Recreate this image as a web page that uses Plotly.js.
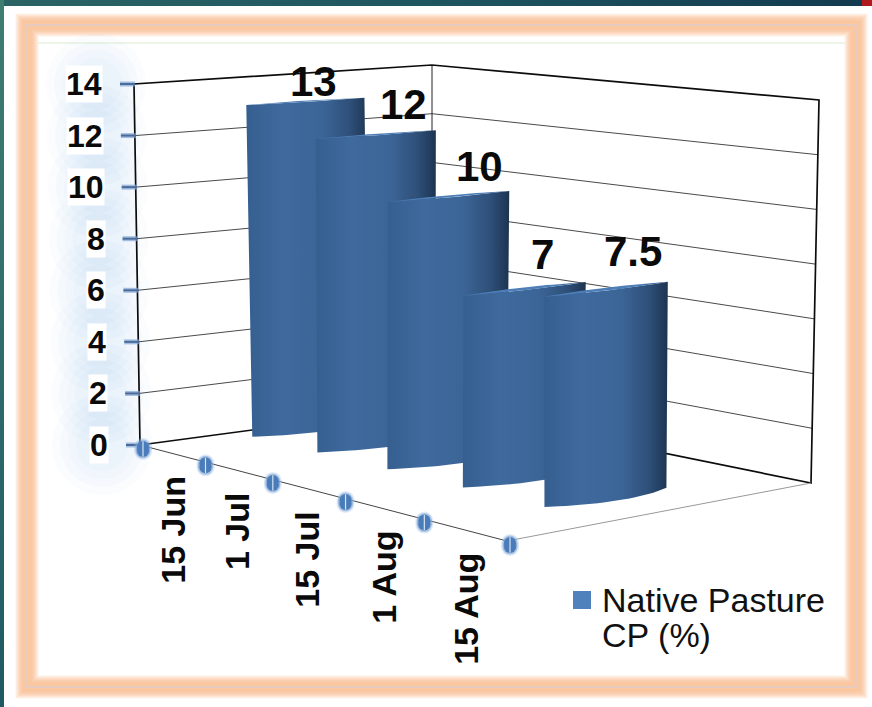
<!DOCTYPE html>
<html><head><meta charset="utf-8">
<script src="https://cdn.plot.ly/plotly-3.0.1.min.js"></script>
<style>html,body{margin:0;padding:0;background:#fff}#c{width:872px;height:707px}</style>
</head><body><div id="c"></div>
<script>
// ---- data ----
const categories = ['15 Jun','1 Jul','15 Jul','1 Aug','15 Aug'];
const cpValues = [13,12,10,7,7.5];
const yTicks = [0,2,4,6,8,10,12,14];
const legendLines = ['Native Pasture','CP (%)'];

// ---- pseudo-3D scale: (category position u, depth v, value h) -> page pixel ----
const H_MAX = 14, U_MAX = 5;
function homography(p00,p10,p11,p01){
  const dx1=p10[0]-p11[0],dx2=p01[0]-p11[0],sx=p00[0]-p10[0]+p11[0]-p01[0];
  const dy1=p10[1]-p11[1],dy2=p01[1]-p11[1],sy=p00[1]-p10[1]+p11[1]-p01[1];
  const den=dx1*dy2-dx2*dy1;
  const g=(sx*dy2-dx2*sy)/den,h=(dx1*sy-sx*dy1)/den;
  const a=p10[0]-p00[0]+g*p10[0],b=p01[0]-p00[0]+h*p01[0],c=p00[0];
  const d=p10[1]-p00[1]+g*p10[1],e=p01[1]-p00[1]+h*p01[1],f=p00[1];
  return (s,t)=>{const w=g*s+h*t+1;return [(a*s+b*t+c)/w,(d*s+e*t+f)/w];};
}
const floorMap = homography([140,445],[507,541],[811,483],[432,406]);
const topMap   = homography([134,84],[509,135],[819,100],[432,65]);
function P(u,v,val){
  const s=u/U_MAX,a=floorMap(s,v),b=topMap(s,v),k=val/H_MAX;
  return [a[0]+(b[0]-a[0])*k,a[1]+(b[1]-a[1])*k];
}
function poly(pts,extra){
  return Object.assign({x:pts.map(p=>p[0]),y:pts.map(p=>p[1]),type:'scatter',mode:'lines',showlegend:false,hoverinfo:'skip'},extra);
}
function seg(pts,color,width){return poly(pts,{line:{color:color,width:width}});}
function dots(pts,marker){
  return {x:pts.map(p=>p[0]),y:pts.map(p=>p[1]),type:'scatter',mode:'markers',showlegend:false,hoverinfo:'skip',marker:marker};
}

const traces=[];
// slide edge bands
traces.push(poly([[0,0],[872,0],[872,6],[0,6],[0,0]],{fill:'toself',line:{width:0},fillgradient:{type:'horizontal',colorscale:[[0,'#2a6465'],[0.5,'#1e5660'],[1,'#123a50']]}}));
traces.push(poly([[0,0],[4,0],[4,707],[0,707],[0,0]],{fill:'toself',line:{width:0},fillgradient:{type:'vertical',colorscale:[[0,'#1f5a63'],[1,'#3f7c72']]}}));
traces.push(poly([[862,0],[872,0],[872,6],[862,6],[862,0]],{fill:'toself',line:{width:0},fillcolor:'#b01a1c'}));

// halo behind the value axis labels
const haloPts=yTicks.map(t=>{const p=P(0,0,t);return [p[0]-38,p[1]];});
[100,84,68,52].forEach(size=>{
  traces.push(dots(haloPts,{size:size,color:'#6f96e6',opacity:0.032,line:{width:0}}));
});

// walls: gridlines
yTicks.slice(1,-1).forEach(t=>{
  traces.push(seg([P(0,0,t),P(0,1,t),P(U_MAX,1,t)],'#4a4a4a',1));
});
// walls: frame
traces.push(seg([P(0,0,0),P(0,0,H_MAX),P(0,1,H_MAX),P(U_MAX,1,H_MAX),P(U_MAX,1,0),P(0,1,0),P(0,0,0)],'#0c0c0c',1.7));
traces.push(seg([P(0,1,0),P(0,1,H_MAX)],'#222',1));
// floor front edges
traces.push(seg([P(0,0,0),P(U_MAX,0,0)],'#444',1));
traces.push(seg([P(U_MAX,0,0),P(U_MAX,1,0)],'#999',1));

// value-axis ticks
const tickGlow=[],tickCore=[];
yTicks.forEach(t=>{
  const p=P(0,0,t);
  [tickGlow,tickCore].forEach(a=>{a.push([p[0]-14,p[1]],[p[0]+1,p[1]],[null,null]);});
});
traces.push(seg(tickGlow,'rgba(130,165,215,0.7)',5));
traces.push(seg(tickCore,'#4b6b98',2));

// bars
const V0=0.30,V1=0.68,U_LEFT=0.29,U_RIGHT=0.37,STEPS=24;
const BOTTOM_BULGE=0.15,TOP_FRONT=0.05,TOP_BACK=-0.07;
const barTopLean=[-5,2,4,2,-2];
const barScale=[[0,'#365f90'],[0.3,'#3f6a9e'],[0.62,'#3c6597'],[0.85,'#2e4f78'],[1,'#1d3452']];
function arc(i,val,b,dx){
  const pts=[];
  for(let k=0;k<=STEPS;k++){
    const t=k/STEPS,v=V0+(V1-V0)*t;
    const u=i+U_LEFT+(U_RIGHT-U_LEFT)*t+b*4*t*(1-t);
    const p=P(u,v,val);
    pts.push([p[0]+dx,p[1]]);
  }
  return pts;
}
cpValues.forEach((val,i)=>{
  const front=arc(i,val,TOP_FRONT,barTopLean[i]),bottom=arc(i,0,BOTTOM_BULGE,0),back=arc(i,val,TOP_BACK,barTopLean[i]);
  const body=front.concat(bottom.slice().reverse(),[front[0]]);
  traces.push(poly(body,{fill:'toself',line:{width:0},fillgradient:{type:'horizontal',colorscale:barScale}}));
  traces.push(poly(back.concat(front.slice().reverse(),[back[0]]),{fill:'toself',line:{width:0},fillgradient:{type:'horizontal',colorscale:[[0,'#4d7eb8'],[0.75,'#4d7eb8'],[1,'#2f5480']]}}));
});

// category ticks
const catTicks=[];
for(let i=0;i<=categories.length;i++){const p=P(i,0,0);catTicks.push([p[0]+3,p[1]+4]);}
const catUp=catTicks.map(p=>[p[0],p[1]-2]),catDown=catTicks.map(p=>[p[0],p[1]+2]);
[catUp,catDown].forEach(pts=>{
  traces.push(dots(pts,{size:18,color:'#9dbce4',opacity:0.3,line:{width:0}}));
  traces.push(dots(pts,{size:15,color:'#6f9ad2',opacity:0.5,line:{width:0}}));
});
[catUp,catDown].forEach(pts=>{ traces.push(dots(pts,{size:12,color:'#4a7cba',line:{width:0}})); });
traces.push(dots(catTicks,{symbol:'line-ns',size:11,line:{color:'#d5e3f3',width:1.2}}));

// legend swatch
traces.push(dots([[582,600]],{symbol:'square',size:18,color:'#4f81bd',line:{width:0}}));

// ---- text ----
const FONT='"Liberation Sans", Arial, sans-serif';
const ann=[];
yTicks.forEach(t=>{
  const p=P(0,0,t);
  ann.push({x:p[0]-31,y:p[1],xref:'x',yref:'y',text:String(t),showarrow:false,xanchor:'right',yanchor:'middle',bgcolor:'#ffffff',borderpad:0,
    font:{family:FONT,size:32,color:'#0a0a0a',weight:700}});
});
categories.forEach((c,i)=>{
  const p=P(i+0.5,0,0);
  ann.push({x:p[0]+2,y:p[1]+21,xref:'x',yref:'y',text:c,showarrow:false,textangle:-90,xanchor:'center',yanchor:'top',
    font:{family:FONT,size:34,color:'#0a0a0a',weight:700}});
});
const labelShift=[[1,-20],[28,-30],[33,-30],[18,-34],[23,-38]];
cpValues.forEach((val,i)=>{
  const p=P(i+0.33,(V0+V1)/2,val);
  ann.push({x:p[0],y:p[1],xref:'x',yref:'y',xshift:labelShift[i][0],yshift:-labelShift[i][1],text:String(val),showarrow:false,xanchor:'center',yanchor:'middle',
    font:{family:FONT,size:42,color:'#0a0a0a',weight:700}});
});
legendLines.forEach((line,i)=>{
  ann.push({x:600,y:600+35*i,xref:'x',yref:'y',text:line,showarrow:false,xanchor:'left',yanchor:'middle',
    font:{family:FONT,size:34,color:'#111'}});
});

// ---- frame ----
function frame(color,width){return {type:'rect',xref:'x',yref:'y',x0:27,x1:856,y0:25,y1:687,layer:'below',fillcolor:'rgba(0,0,0,0)',line:{color:color,width:width}};}
const shapes=[];
[23,21,19,17,15,13,11,9].forEach(w=>shapes.push(frame('rgba(250,185,135,0.17)',w)));
shapes.push(frame('#e2cdca',1.4));
shapes.push({type:'line',xref:'x',yref:'y',x0:38,x1:845,y0:43,y1:43,layer:'below',line:{color:'#dcebd2',width:1}});

const layout={
  width:872,height:707,margin:{l:0,r:0,t:0,b:0,pad:0},paper_bgcolor:'#fff',plot_bgcolor:'rgba(0,0,0,0)',
  xaxis:{range:[0,872],visible:false,fixedrange:true},
  yaxis:{range:[707,0],visible:false,fixedrange:true},
  showlegend:false,
  annotations:ann,shapes:shapes
};
Plotly.newPlot('c',traces,layout,{displayModeBar:false,staticPlot:true});
</script></body></html>
